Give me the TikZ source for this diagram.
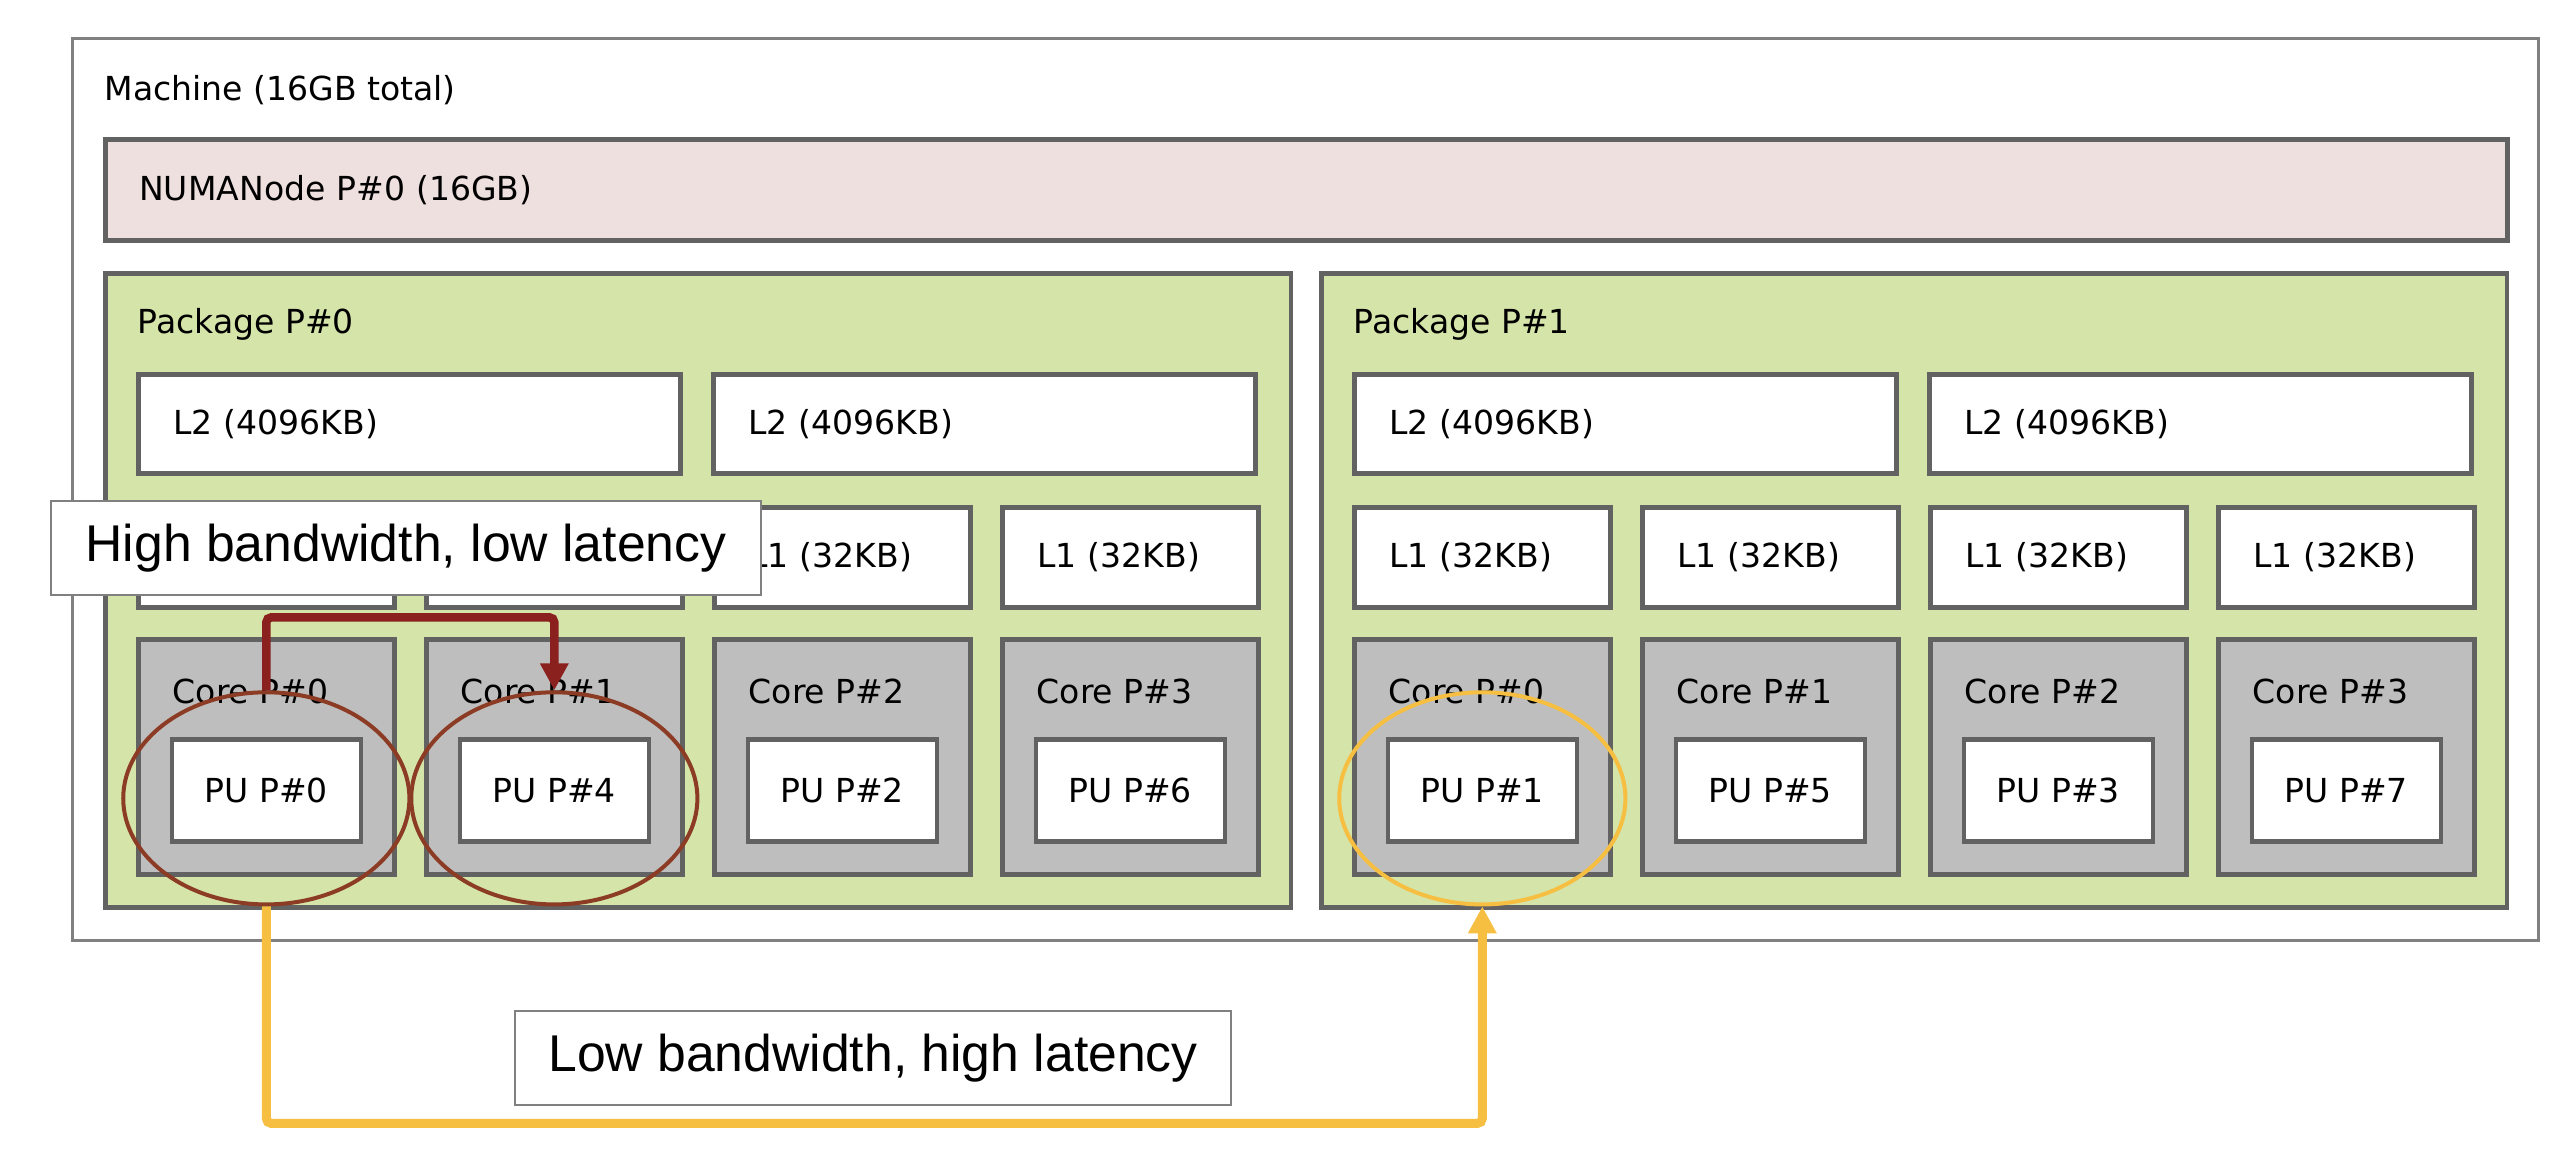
\documentclass[tikz,border=0pt]{standalone}
\usepackage{fontspec}
\setmainfont{DejaVu Sans}
\newfontfamily\notefont{Liberation Sans}
\usetikzlibrary{positioning,shapes.geometric,arrows.meta}

\definecolor{numafill}{RGB}{238,224,223}
\definecolor{pkgfill}{RGB}{213,228,168}
\definecolor{corefill}{RGB}{190,190,190}
\definecolor{boxline}{RGB}{98,98,98}
\definecolor{frameline}{RGB}{128,128,128}
\definecolor{nearline}{RGB}{139,33,30}
\definecolor{nearring}{RGB}{140,60,36}
\definecolor{farline}{RGB}{246,191,66}

\newcommand*{\hwfont}{\fontsize{9.4}{11}\selectfont}
\newcommand*{\bigfont}{\notefont\fontsize{14.7}{17}\selectfont}

\begin{document}
\begin{tikzpicture}
[
	x=0.01cm, y=-0.01cm,
	hwbox/.style={rectangle,draw=boxline,line width=0.045cm,inner sep=0pt,anchor=north west,font=\hwfont},
	cachebox/.style={hwbox,fill=white,inner xsep=0.35cm,align=left,text width=#1},
	hwlabel/.style={anchor=west,inner sep=0pt,font=\hwfont},
	ring/.style={ellipse,draw=#1,line width=0.04cm,minimum width=2.86cm,minimum height=2.12cm,inner sep=0pt},
	link/.style={draw=#1,line width=0.085cm,rounded corners=0.05cm,-{Triangle[length=0.27cm,width=0.27cm]}},
	note/.style={rectangle,draw=frameline,line width=0.02cm,fill=white,font=\bigfont,minimum height=0.94cm}
]

	\useasboundingbox (0,0) rectangle (2556,1150);

	% machine frame
	\node[rectangle,draw=frameline,line width=0.03cm,minimum width=24.65cm,minimum height=9.01cm,anchor=north west] (machine) at (71,37) {};
	\node[hwlabel] (machinelbl) at ([shift={(33,53)}]machine.north west) {Machine (16GB total)};

	% numa node
	\node[hwbox,fill=numafill,minimum width=24.01cm,minimum height=1.01cm,inner xsep=0.34cm,text width=23.33cm,align=left] (numa) at (103,137) {NUMANode P\#0 (16GB)};

	% packages, caches, cores and PUs
	\foreach \p/\pkgx in {0/103,1/1319} {
		\node[hwbox,fill=pkgfill,minimum width=11.85cm,minimum height=6.34cm] (pkg\p) at (\pkgx,271) {};
		\node[hwlabel] (pkglbl\p) at ([shift={(34,53)}]pkg\p.north west) {Package P\#\p};
		\foreach \c in {0,1} {
			\node[cachebox=4.72cm,minimum width=5.42cm,minimum height=0.99cm] (ltwo\p\c) at (\pkgx+33+\c*575,372) {L2 (4096KB)};
		}
		\foreach \c in {0,1,2,3} {
			\pgfmathtruncatemacro{\u}{\p+4*mod(\c,2)+2*floor(\c/2)}
			\node[cachebox=1.86cm,minimum width=2.56cm,minimum height=1cm] (lone\p\c) at (\pkgx+33+\c*288,505) {L1 (32KB)};
			\node[hwbox,fill=corefill,minimum width=2.56cm,minimum height=2.35cm] (core\p\c) at (\pkgx+33+\c*288,637) {};
			\node[hwlabel] (corelbl\p\c) at ([shift={(36,54)}]core\p\c.north west) {Core P\#\c};
			\node[hwbox,fill=white,anchor=north,minimum width=1.89cm,minimum height=1.02cm] (pu\p\c) at ([yshift=-1cm]core\p\c.north) {PU P\#\u};
		}
	}

	% rings round the PUs
	\node[ring=nearring] (ring00) at ([yshift=-0.08cm]pu00.center) {};
	\node[ring=nearring] (ring01) at ([yshift=-0.08cm]pu01.center) {};
	\node[ring=farline] (ring10) at ([yshift=-0.08cm]pu10.center) {};

	% near path
	\draw[link=nearline] (ring00.north) -- ++(0,-73) -| (ring01.north);
	% far path
	\draw[link=farline,line width=0.09cm] (ring00.south) -- ++(0,217) -| (ring10.south);

	% notes
	\node[note,minimum width=7.10cm] (nearnote) at (406,548) {High bandwidth, low latency};
	\node[note,minimum width=7.16cm] (farnote) at (873,1058) {Low bandwidth, high latency};

\end{tikzpicture}
\end{document}
